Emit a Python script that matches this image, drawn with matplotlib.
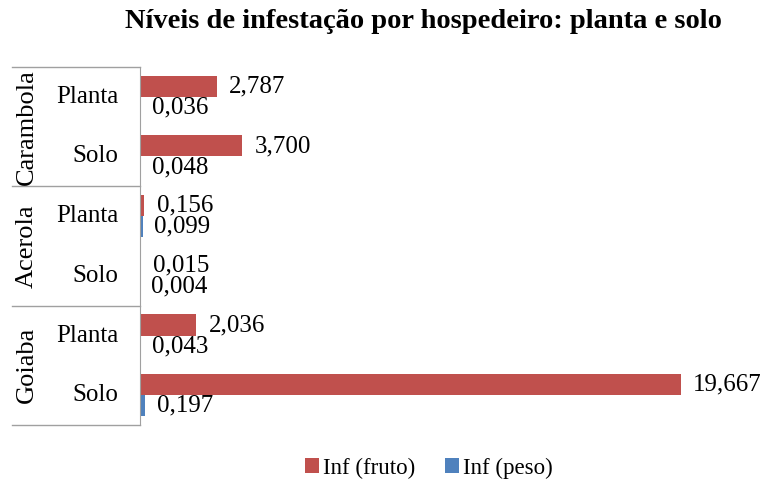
import matplotlib
matplotlib.use("Agg")
import matplotlib.pyplot as plt
from matplotlib.lines import Line2D
from matplotlib.transforms import blended_transform_factory
import numpy as np

plt.rcParams['font.family'] = ['Liberation Serif', 'DejaVu Serif']

hosts = ['Carambola', 'Acerola', 'Goiaba']
places = ['Planta', 'Solo']
inf_fruto = [2.787, 3.700, 0.156, 0.015, 2.036, 19.667]
inf_peso = [0.036, 0.048, 0.099, 0.004, 0.043, 0.197]

red = '#C0504D'
blue = '#4F81BD'
grey = '#A0A0A0'

fig = plt.figure(figsize=(7.64, 4.86), dpi=100)
ax = fig.add_axes([140 / 764, 61 / 486, 605 / 764, 358 / 486])

n = len(inf_fruto)
y = np.arange(n) + 0.5
h = 21 / 59.5

ax.barh(y - h / 2, inf_fruto, height=h, color=red, label='Inf (fruto)')
ax.barh(y + h / 2, inf_peso, height=h, color=blue, label='Inf (peso)')

for yi, v in zip(y - h / 2, inf_fruto):
    ax.annotate(f'{v:.3f}'.replace('.', ','), (v, yi), xytext=(9, 0),
                textcoords='offset points', va='center', ha='left', fontsize=18)
for yi, v in zip(y + h / 2, inf_peso):
    ax.annotate(f'{v:.3f}'.replace('.', ','), (v, yi), xytext=(8, 0),
                textcoords='offset points', va='center', ha='left', fontsize=18)

ax.set_xlim(0, 22)
ax.set_ylim(n, 0)
ax.set_xticks([])
ax.set_yticks([])
for s in ['top', 'right', 'bottom']:
    ax.spines[s].set_visible(False)
ax.spines['left'].set_color(grey)

# multi-level category labels on the left
tr = blended_transform_factory(fig.transFigure, ax.transData)
x0 = 12 / 764
x1 = 140 / 764
for k in range(len(hosts) + 1):
    yy = 2 * k
    fig.add_artist(Line2D([x0, x1], [yy, yy], transform=tr, color=grey, lw=1))
for i, yi in enumerate(y):
    fig.text(118 / 764, yi, places[i % 2], transform=tr, ha='right', va='center',
             fontsize=18)
for k, name in enumerate(hosts):
    fig.text(27 / 764, 2 * k + 1, name, transform=tr, ha='center', va='center',
             rotation=90, fontsize=19)

fig.suptitle('Níveis de infestação por hospedeiro: planta e solo', x=0.554,
             y=1 - 22 / 486, va='center', fontsize=20.5, fontweight='bold')

fig.legend(loc='center', bbox_to_anchor=(0.5615, 1 - 468 / 486), ncol=2,
           frameon=False, fontsize=16.5, handlelength=0.6, handleheight=0.6,
           handletextpad=0.2, columnspacing=1.3)

fig.savefig('out.png', dpi=100)
